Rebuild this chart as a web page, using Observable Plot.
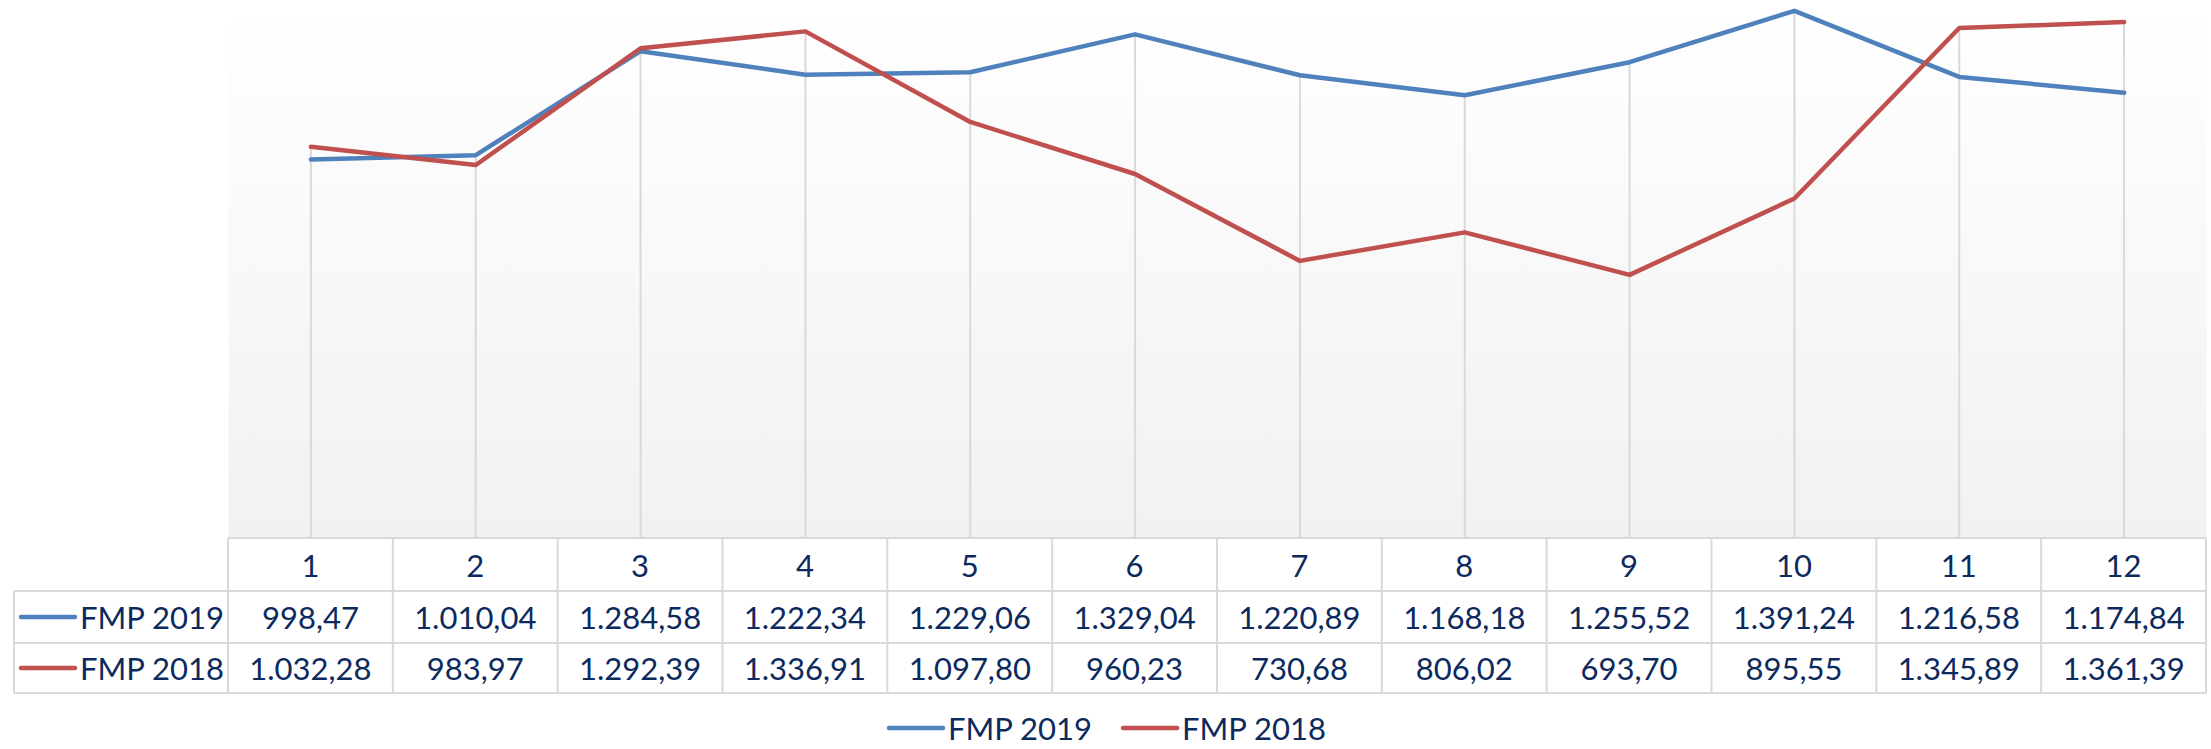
<!DOCTYPE html>
<html>
<head>
<meta charset="utf-8">
<script src="https://cdn.jsdelivr.net/npm/d3@7"></script>
<script src="https://cdn.jsdelivr.net/npm/@observablehq/plot@0.6"></script>
<style>
  html, body { margin: 0; padding: 0; background: #ffffff; }
  #wrap { position: relative; width: 2211px; height: 749px; overflow: hidden; font-family: Lato, "Open Sans", sans-serif; }
  #wrap svg { display: block; }
</style>
</head>
<body>
<div id="wrap"></div>
<script>
// ---- data ----
const months = [1, 2, 3, 4, 5, 6, 7, 8, 9, 10, 11, 12];
const fmp2019 = [998.47, 1010.04, 1284.58, 1222.34, 1229.06, 1329.04, 1220.89, 1168.18, 1255.52, 1391.24, 1216.58, 1174.84];
const fmp2018 = [1032.28, 983.97, 1292.39, 1336.91, 1097.80, 960.23, 730.68, 806.02, 693.70, 895.55, 1345.89, 1361.39];
const seriesNames = ["FMP 2019", "FMP 2018"];
const seriesColors = ["#4f81bd", "#c0504d"];
const seriesValues = [fmp2019, fmp2018];

const textColor = "#0c2a5e";
const gridColor = "#d9d9d9";
const fontSize = 31;

const rows = months.flatMap((m, i) => seriesNames.map((s, k) => ({ month: m, series: s, value: seriesValues[k][i] })));
const drops = months.map((m, i) => ({ month: m, top: Math.max(fmp2019[i], fmp2018[i]) }));

const W = 2211, H = 537, L = 228, R = 5;

const chart = Plot.plot({
  width: W,
  height: H,
  marginLeft: L,
  marginRight: R,
  marginTop: 7,
  marginBottom: 0,
  style: { background: "transparent", overflow: "visible" },
  x: { type: "point", domain: months, padding: 0.5, round: false, axis: null },
  y: { domain: [0, 1400], axis: null },
  color: { domain: seriesNames, range: seriesColors },
  marks: [
    Plot.frame({ fill: "url(#bgGrad)", stroke: "none" }),
    Plot.ruleX(drops, { x: "month", y1: 0, y2: "top", stroke: gridColor, strokeWidth: 2 }),
    Plot.line(rows, { x: "month", y: "value", z: "series", stroke: "series", strokeWidth: 4.5, strokeLinecap: "round", strokeLinejoin: "round" })
  ]
});

// gradient for the plot background
const defs = d3.select(chart).insert("defs", ":first-child");
const grad = defs.append("linearGradient").attr("id", "bgGrad").attr("x1", 0).attr("y1", 0).attr("x2", 0).attr("y2", 1);
grad.append("stop").attr("offset", "0%").attr("stop-color", "#ffffff");
grad.append("stop").attr("offset", "100%").attr("stop-color", "#f1f1f1");

const wrap = document.getElementById("wrap");
wrap.appendChild(chart);

// ---- data table + legend below the chart ----
const xs = chart.scale("x");
const step = (W - L - R) / months.length;
const colLeft = m => xs.apply(m) - step / 2;
const tableLeft = 14;
const colRight = W - R;

const fmt = d3.formatLocale({ decimal: ",", thousands: ".", grouping: [3], currency: ["", ""] }).format(",.2f");

const TH = 749 - H;
const off = H; // y offset in page coordinates
const rowY = [538, 591, 643, 693].map(v => v - off);

const tsvg = d3.select(wrap).append("svg")
  .attr("width", W).attr("height", TH)
  .style("font-family", "Lato, 'Open Sans', sans-serif");

const g = tsvg.append("g");
// horizontal borders
g.append("line").attr("x1", L).attr("x2", colRight).attr("y1", rowY[0]).attr("y2", rowY[0]);
for (let r = 1; r < 4; r++) g.append("line").attr("x1", tableLeft).attr("x2", colRight).attr("y1", rowY[r]).attr("y2", rowY[r]);
// vertical borders
g.append("line").attr("x1", tableLeft).attr("x2", tableLeft).attr("y1", rowY[1]).attr("y2", rowY[3]);
months.forEach(m => {
  g.append("line").attr("x1", colLeft(m)).attr("x2", colLeft(m)).attr("y1", rowY[0]).attr("y2", rowY[3]);
});
g.append("line").attr("x1", colRight).attr("x2", colRight).attr("y1", rowY[0]).attr("y2", rowY[3]);
g.selectAll("line").attr("stroke", gridColor).attr("stroke-width", 2);

// header labels
months.forEach(m => {
  tsvg.append("text").attr("x", xs.apply(m)).attr("y", (rowY[0] + rowY[1]) / 2)
    .attr("text-anchor", "middle").attr("dominant-baseline", "central")
    .attr("fill", textColor).attr("font-size", fontSize).text(String(m));
});

// series rows
seriesNames.forEach((s, k) => {
  const cy = (rowY[k + 1] + rowY[k + 2]) / 2;
  tsvg.append("line").attr("x1", 21).attr("x2", 75).attr("y1", cy).attr("y2", cy)
    .attr("stroke", seriesColors[k]).attr("stroke-width", 4.5).attr("stroke-linecap", "round");
  tsvg.append("text").attr("x", 80).attr("y", cy).attr("dominant-baseline", "central")
    .attr("fill", textColor).attr("font-size", fontSize).text(s);
  months.forEach((m, i) => {
    tsvg.append("text").attr("x", xs.apply(m)).attr("y", cy)
      .attr("text-anchor", "middle").attr("dominant-baseline", "central")
      .attr("fill", textColor).attr("font-size", fontSize).text(fmt(seriesValues[k][i]));
  });
});

// bottom legend
const legendY = 728 - off;
const legendX = [889, 1123];
seriesNames.forEach((s, k) => {
  const x0 = legendX[k];
  tsvg.append("line").attr("x1", x0).attr("x2", x0 + 54).attr("y1", legendY).attr("y2", legendY)
    .attr("stroke", seriesColors[k]).attr("stroke-width", 4.5).attr("stroke-linecap", "round");
  tsvg.append("text").attr("x", x0 + 59).attr("y", legendY).attr("dominant-baseline", "central")
    .attr("fill", textColor).attr("font-size", fontSize).text(s);
});
</script>
</body>
</html>
